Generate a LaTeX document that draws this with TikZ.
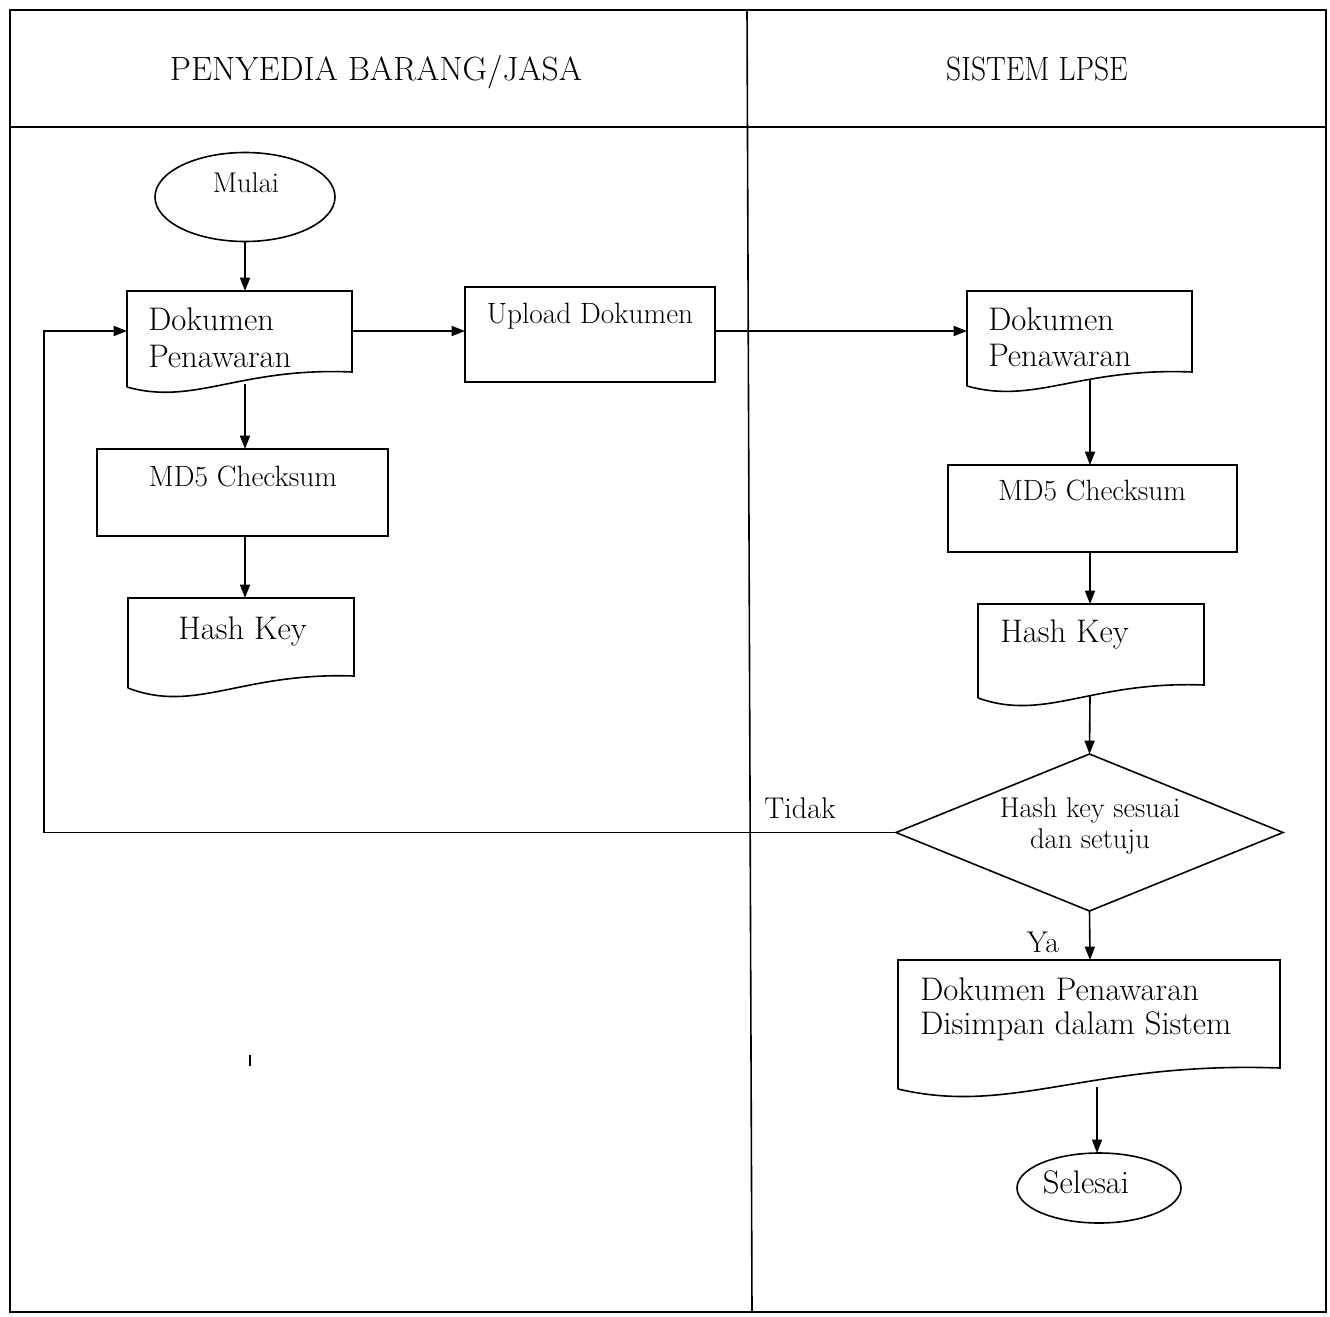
\documentclass[tikz,border=0pt]{standalone}
\usetikzlibrary{arrows.meta,calc,fit,shapes.geometric}
\newcommand\docout[3]{%
  \draw[lw] (#1.south west) -- (#1.north west) -- (#1.north east) -- ($(#1.south east)+(0,-#2)$)
    .. controls ($(#1.south west)!0.5!(#1.south east)+(0,-1.33*#2)$)
       and ($(#1.south west)!0.3!(#1.south east)+(0,#3)$) .. (#1.south west);}
\begin{document}
\begin{tikzpicture}[x=0.75pt,y=-0.75pt,
  lw/.style={line width=1.2pt},
  shp/.style={inner sep=0pt, outer sep=0pt, draw=none},
  box/.style={shp, draw, lw},
  ell/.style={ellipse, draw, lw, inner sep=0pt, outer sep=0pt},
  big/.style={font=\fontsize{24.5}{29}\selectfont, inner sep=0pt},
  lbl/.style={font=\fontsize{22.5}{27}\selectfont, inner sep=0pt},
  sml/.style={font=\fontsize{22}{26}\selectfont, inner sep=0pt},
  dtx/.style={font=\fontsize{21.4}{25}\selectfont, inner sep=0pt},
  hdr/.style={font=\fontsize{25.2}{30}\selectfont, inner sep=0pt},
  arr/.style={lw, -{Triangle[length=10pt,width=7.5pt]}},
]
\fill[white] (0,0) rectangle (1330,1316);
\useasboundingbox (0,0) rectangle (1330,1316);

% frame and lanes
\draw[lw] (10,10) rectangle (1326,1312);
\draw[lw] (10,127) -- (1326,127);
\draw[lw] (747,10) -- (752,1312);
\node[hdr, anchor=base] (hl) at (376,81) {PENYEDIA BARANG/JASA};
\node[hdr, anchor=base] (hr) at (1037,81) {\scalebox{0.88}[1]{SISTEM LPSE}};

% left lane
\node[ell, minimum width=135pt, minimum height=66.75pt] (start) at (245,197) {};
\node[dtx, anchor=base] (startt) at (246,193) {Mulai};

\node[shp, fit={(127,291)(352,387)}] (d1) {};
\docout{d1}{15}{19}
\node[big, anchor=base west] (d1a) at (148,330) {Dokumen};
\node[big, anchor=base west] (d1b) at (148,367) {Penawaran};

\node[box, fit={(97,449)(388,536)}] (m1) {};
\node[sml, anchor=base] (m1t) at (243,486) {MD5 Checksum};

\node[shp, fit={(128,598)(354,688)}] (h1) {};
\docout{h1}{12}{26}
\node[big, anchor=base west] (h1t) at (178,639) {Hash Key};

\node[box, fit={(465,287)(715,382)}] (up) {};
\node[sml, anchor=base] (upt) at (590,323) {Upload Dokumen};

% right lane
\node[shp, fit={(967,291)(1192,386)}] (d2) {};
\docout{d2}{14}{19}
\node[big, anchor=base west] (d2a) at (988,330) {Dokumen};
\node[big, anchor=base west] (d2b) at (988,366) {Penawaran};

\node[box, fit={(948,465)(1237,552)}] (m2) {};
\node[sml, anchor=base] (m2t) at (1092,500) {MD5 Checksum};

\node[shp, fit={(978,604)(1204,698)}] (h2) {};
\docout{h2}{13}{24}
\node[big, anchor=base west] (h2t) at (1000,642) {Hash Key};

\node[shp, fit={(896,754)(1283,911)}] (dia) {};
\draw[lw] (dia.north) -- (dia.east) -- (dia.south) -- (dia.west) -- cycle;
\node[dtx, anchor=base] (diat1) at (1090,817) {Hash key sesuai};
\node[dtx, anchor=base] (diat2) at (1090,848) {dan setuju};

\node[shp, fit={(898,960)(1280,1089)}] (bd) {};
\docout{bd}{21}{27}
\node[big, anchor=base west] (bda) at (920,1000) {Dokumen Penawaran};
\node[big, anchor=base west] (bdb) at (920,1034) {Disimpan dalam Sistem};

\node[ell, minimum width=123pt, minimum height=52.5pt] (sel) at (1099,1188) {};
\node[big, anchor=base] (selt) at (1086,1193) {Selesai};

\node[lbl, anchor=base] (tidak) at (800,818) {Tidak};
\node[lbl, anchor=base] (ya) at (1043,952) {Ya};

% connectors
\coordinate (row) at (0,331);
\coordinate (lp) at (44,331);
\draw[arr] (start.south -| 245,0) -- (245,0 |- d1.north);
\draw[arr] (d1.east |- row) -- (up.west |- row);
\draw[arr] (up.east |- row) -- (d2.west |- row);
\draw[arr] ($(245,0 |- d1.south)+(0,-3)$) -- (245,0 |- m1.north);
\draw[arr] (245,0 |- m1.south) -- (245,0 |- h1.north);
\draw[arr] ($(1090,0 |- d2.south)+(0,-6)$) -- (1090,0 |- m2.north);
\draw[arr] (1090,0 |- m2.south) -- (1090,0 |- h2.north);
\draw[arr] ($(1090,0 |- h2.south)+(0,-2)$) -- (dia.north);
\draw[arr] (dia.south) -- (1090,0 |- bd.north);
\draw[arr] ($(1097,0 |- bd.south)+(0,-2)$) -- (1097,0 |- sel.north);
\draw[arr] (dia.west) -| (lp) -- (d1.west |- lp);

% stray mark
\draw[line width=1.2pt] (250,1055) -- (250,1066);
\end{tikzpicture}
\end{document}
